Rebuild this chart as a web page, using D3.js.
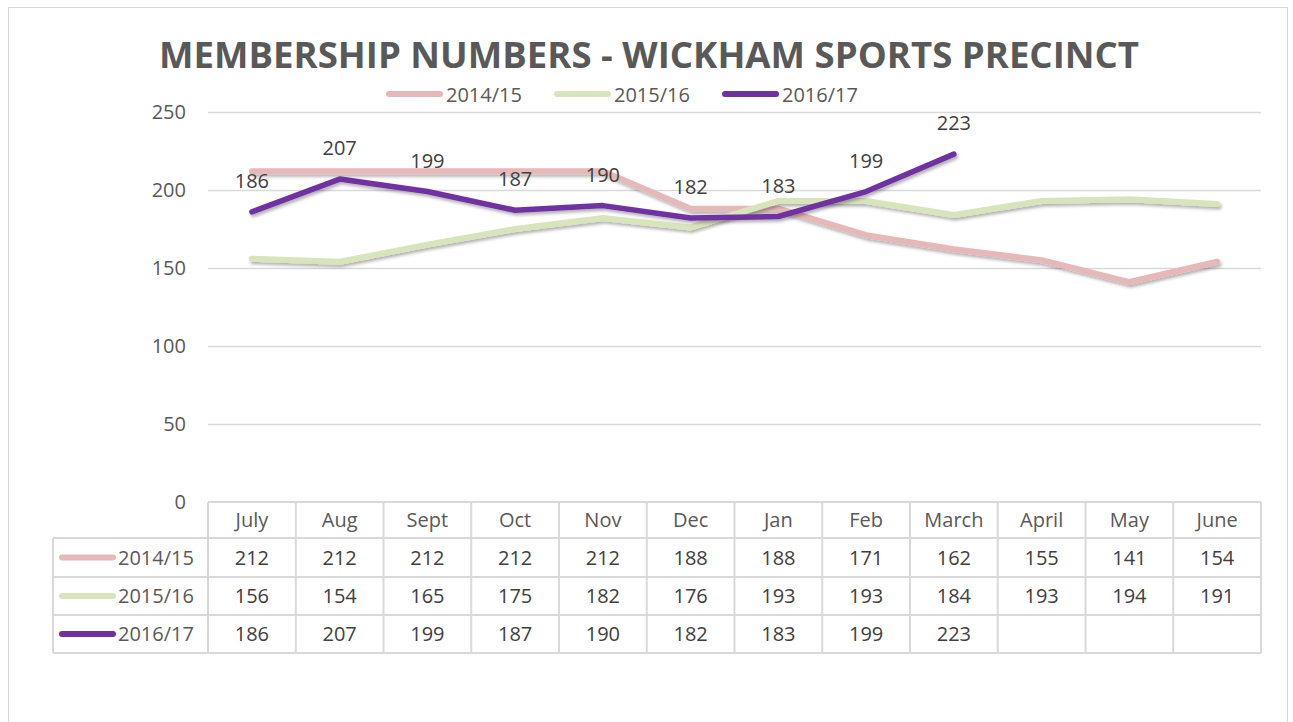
<!DOCTYPE html>
<html><head><meta charset="utf-8">
<script src="https://cdn.jsdelivr.net/npm/d3@7"></script>
<style>
html,body{margin:0;padding:0;background:#fff;}
svg{display:block;font-family:"Open Sans",sans-serif;}
</style></head>
<body>
<svg id="chart" width="1293" height="722"></svg>
<script>
const title = "MEMBERSHIP NUMBERS - WICKHAM SPORTS PRECINCT";
const months = ["July","Aug","Sept","Oct","Nov","Dec","Jan","Feb","March","April","May","June"];
const seriesNames = ["2014/15","2015/16","2016/17"];
const values1415 = [212,212,212,212,212,188,188,171,162,155,141,154];
const values1516 = [156,154,165,175,182,176,193,193,184,193,194,191];
const values1617 = [186,207,199,187,190,182,183,199,223,null,null,null];
const yTicks = [0,50,100,150,200,250];
const colors = ["#E6B8B7","#D8E4BC","#7030A0"];

const series = [values1415, values1516, values1617];
const svg = d3.select("#chart");

// outer border
svg.append("rect").attr("x",8.5).attr("y",7.5).attr("width",1279).attr("height",730)
  .attr("fill","none").attr("stroke","#d9d9d9").attr("stroke-width",1);

const defs = svg.append("defs");
const f = defs.append("filter").attr("id","shadow").attr("x","-5%").attr("y","-20%").attr("width","110%").attr("height","140%");
f.append("feDropShadow").attr("dx",1.5).attr("dy",2.5).attr("stdDeviation",1.6).attr("flood-color","#000").attr("flood-opacity",0.3);

const x = d3.scaleBand().domain(months).range([208,1261]);
const y = d3.scaleLinear().domain([0,250]).range([502,112]);
const cx = m => x(m) + x.bandwidth()/2;

// title
svg.append("text").attr("x",649).attr("y",68).attr("text-anchor","middle")
  .attr("font-size",36).attr("font-weight","bold").attr("fill","#595959")
  .attr("textLength",980).attr("lengthAdjust","spacingAndGlyphs").text(title);

// gridlines
svg.append("g").selectAll("line").data(yTicks.filter(t=>t>0)).join("line")
  .attr("x1",208).attr("x2",1261).attr("y1",d=>y(d)+0.5).attr("y2",d=>y(d)+0.5)
  .attr("stroke","#d9d9d9").attr("stroke-width",1.3);

// y axis labels
svg.append("g").selectAll("text").data(yTicks).join("text")
  .attr("x",186).attr("y",d=>y(d)+7).attr("text-anchor","end")
  .attr("font-size",20).attr("fill","#595959").text(d=>d);

// legend
const legX = [386,554,722];
seriesNames.forEach((n,i)=>{
  svg.append("line").attr("x1",legX[i]+3).attr("x2",legX[i]+54).attr("y1",94).attr("y2",94)
    .attr("stroke",colors[i]).attr("stroke-width",6).attr("stroke-linecap","round");
  svg.append("text").attr("x",legX[i]+60).attr("y",101.5).attr("font-size",20).attr("fill","#595959").text(n);
});

// lines
const line = d3.line().defined(d=>d.v!=null).x(d=>cx(d.m)).y(d=>y(d.v));
const widths = [6,6,5.5];
series.forEach((vals,i)=>{
  svg.append("path").datum(vals.map((v,j)=>({m:months[j],v})))
    .attr("d",line).attr("fill","none").attr("stroke",colors[i])
    .attr("stroke-width",widths[i]).attr("stroke-linejoin","round").attr("stroke-linecap","round")
    .attr("filter","url(#shadow)");
});

// data labels for 2016/17
svg.append("g").selectAll("text").data(values1617.map((v,j)=>({m:months[j],v})).filter(d=>d.v!=null)).join("text")
  .attr("x",d=>cx(d.m)).attr("y",d=>y(d.v)-24).attr("text-anchor","middle")
  .attr("font-size",20).attr("fill","#404040").text(d=>d.v);

// data table
const tX0 = 53, tX1 = 208, tX2 = 1261;
const rowY = [502,538,577,615,653];
const grid = svg.append("g").attr("stroke","#d9d9d9").attr("stroke-width",2);
// horizontal lines
grid.append("line").attr("x1",tX1).attr("x2",tX2).attr("y1",rowY[0]).attr("y2",rowY[0]);
for(let r=1;r<rowY.length;r++){
  grid.append("line").attr("x1",tX0).attr("x2",tX2).attr("y1",rowY[r]).attr("y2",rowY[r]);
}
// vertical lines
grid.append("line").attr("x1",tX0).attr("x2",tX0).attr("y1",rowY[1]).attr("y2",rowY[4]);
months.forEach(m=>{
  grid.append("line").attr("x1",x(m)).attr("x2",x(m)).attr("y1",rowY[0]).attr("y2",rowY[4]);
});
grid.append("line").attr("x1",tX2).attr("x2",tX2).attr("y1",rowY[0]).attr("y2",rowY[4]);

// header
svg.append("g").selectAll("text").data(months).join("text")
  .attr("x",d=>cx(d)).attr("y",(rowY[0]+rowY[1])/2+7).attr("text-anchor","middle")
  .attr("font-size",20).attr("fill","#595959").text(d=>d);

// rows
series.forEach((vals,i)=>{
  const yc = (rowY[i+1]+rowY[i+2])/2;
  svg.append("line").attr("x1",62).attr("x2",113).attr("y1",yc).attr("y2",yc)
    .attr("stroke",colors[i]).attr("stroke-width",6).attr("stroke-linecap","round");
  svg.append("text").attr("x",118).attr("y",yc+7).attr("font-size",20).attr("fill","#595959").text(seriesNames[i]);
  svg.append("g").selectAll("text").data(vals.map((v,j)=>({m:months[j],v})).filter(d=>d.v!=null)).join("text")
    .attr("x",d=>cx(d.m)).attr("y",yc+7).attr("text-anchor","middle")
    .attr("font-size",20).attr("fill","#404040").text(d=>d.v);
});
</script>
</body></html>
